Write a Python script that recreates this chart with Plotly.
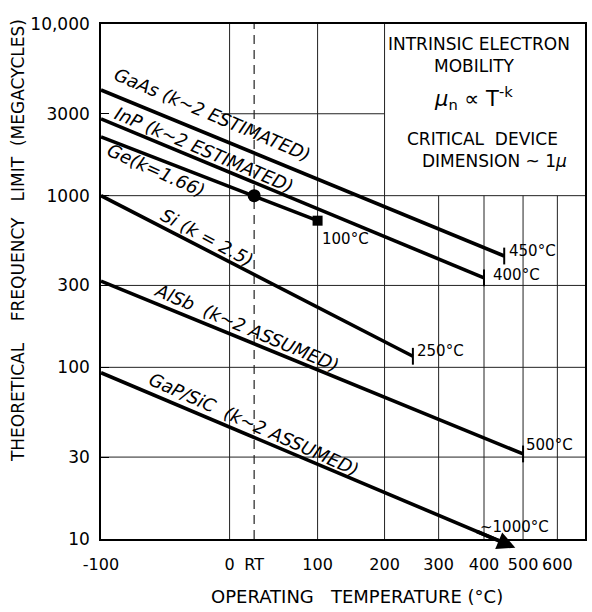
import numpy as np
import plotly.graph_objects as go

KELVIN = 273.15

# Frequency-limit lines: start and end points (temperature in °C, frequency in megacycles)
materials = ["GaAs", "InP", "Ge", "Si", "AlSb", "GaP/SiC"]
line_labels = ["GaAs (k~2 ESTIMATED)", "InP (k~2 ESTIMATED)", "Ge(k=1.66)",
               "Si (k = 2.5)", "AlSb  (k~2 ASSUMED)", "GaP/SiC  (k~2 ASSUMED)"]
start_temp_c = [-100, -100, -100, -100, -100, -100]
start_freq = [4130, 2800, 2200, 1000, 318, 93]
end_temp_c = [450, 400, 100, 250, 500, 479]
end_freq = [445, 332, 715, 116, 31.3, 8.9]
end_labels = ["450°C", "400°C", "100°C", "250°C", "500°C", "~1000°C"]

# Room-temperature reference point on the Ge line
rt_temp_k = 298
rt_freq = 1000

# Axis ticks
x_tick_temps_c = [-100, 0, None, 100, 200, 300, 400, 500, 600]
x_tick_text = ["-100", "0", "RT", "100", "200", "300", "400", "500", "600"]
y_tick_vals = [10, 30, 100, 300, 1000, 3000, 10000]
y_tick_text = ["10", "30", "100", "300", "1000", "3000", "10,000"]

X_MAX_K = 963


def to_k(c):
    return c + KELVIN


x_tick_vals = [rt_temp_k if t is None else to_k(t) for t in x_tick_temps_c]

FONT = "DejaVu Sans"
fig = go.Figure()

# ---- grid segments ----
grid = dict(color="#222222", width=1)


def seg(x, y, line):
    fig.add_trace(go.Scatter(x=x, y=y, mode="lines", line=line,
                             hoverinfo="skip", showlegend=False))


x_lo = to_k(-100)
for f in [3000, 1000, 300, 100, 30]:
    if f == 3000:
        seg([to_k(-8), to_k(200)], [f, f], grid)   # stops at the legend panel
    else:
        seg([x_lo, X_MAX_K], [f, f], grid)
for t in [0, 100, 200]:
    seg([to_k(t), to_k(t)], [10, 10000], grid)
for t in [300, 400, 500, 600]:
    seg([to_k(t), to_k(t)], [10, 1000], grid)       # below the legend panel
seg([rt_temp_k, rt_temp_k], [10, 10000], dict(color="#222222", width=1.2, dash="9px,6px"))

# ---- material lines ----
LW = 3.6
for i, name in enumerate(materials):
    xs = [to_k(start_temp_c[i]), to_k(end_temp_c[i])]
    ys = [start_freq[i], end_freq[i]]
    fig.add_trace(go.Scatter(x=xs, y=ys, mode="lines", name=name,
                             line=dict(color="black", width=LW), showlegend=False))
    if name == "Ge":
        fig.add_trace(go.Scatter(x=[xs[1]], y=[ys[1]], mode="markers", showlegend=False,
                                 marker=dict(symbol="square", size=10, color="black")))
    elif name != "GaP/SiC":
        fig.add_trace(go.Scatter(x=[xs[1]], y=[ys[1]], mode="markers", showlegend=False,
                                 marker=dict(symbol="line-ns-open", size=12, color="black",
                                             line=dict(color="black", width=2))))

fig.add_trace(go.Scatter(x=[rt_temp_k], y=[rt_freq], mode="markers", showlegend=False,
                         marker=dict(symbol="circle", size=13, color="black")))

annotations = []

# arrow carrying the GaP/SiC line past the bottom axis
g = materials.index("GaP/SiC")
lx0, lx1 = np.log10(to_k(start_temp_c[g])), np.log10(to_k(end_temp_c[g]))
ly0, ly1 = np.log10(start_freq[g]), np.log10(end_freq[g])
tail_x = np.log10(to_k(380))
tail_y = ly0 + (ly1 - ly0) * (tail_x - lx0) / (lx1 - lx0)
annotations.append(dict(x=lx1, y=ly1, ax=tail_x, ay=tail_y, xref="x", yref="y",
                        axref="x", ayref="y", text="", showarrow=True,
                        arrowhead=2, arrowsize=1.0, arrowwidth=LW, arrowcolor="black"))

# ---- line labels ----
label_pos = [(-16, 2990, 23), (-24, 1846, 23), (-62, 1411, 24),
             (-21, 567, 28), (17, 170, 23), (25, 46.2, 24)]
for text, (tc, f, ang) in zip(line_labels, label_pos):
    annotations.append(dict(x=np.log10(to_k(tc)), y=np.log10(f), xref="x", yref="y",
                            text=text, showarrow=False, textangle=ang,
                            xanchor="center", yanchor="middle",
                            font=dict(family=FONT, size=18, color="black", style="italic")))

# ---- end-point temperature labels ----
end_shift = [(3, 5), (7, 3), (2, -18), (2, 5), (1, 9)]
for i, (dx, dy) in enumerate(end_shift):
    annotations.append(dict(x=np.log10(to_k(end_temp_c[i])), y=np.log10(end_freq[i]),
                            xref="x", yref="y", text=end_labels[i], showarrow=False,
                            xanchor="left", yanchor="middle", xshift=dx, yshift=dy,
                            font=dict(family=FONT, size=15, color="black")))
# the GaP/SiC end runs off the axis, so its label sits just above the arrow
annotations.append(dict(x=0.854, y=0.023, xref="paper", yref="paper", text=end_labels[g],
                        showarrow=False, xanchor="center", yanchor="middle",
                        font=dict(family=FONT, size=15, color="black")))

# ---- legend panel text ----
panel = [("INTRINSIC ELECTRON", 0.780, 0.961, 17),
         ("MOBILITY", 0.772, 0.918, 17),
         ("<i>μ</i><sub>n</sub> ∝ T<sup>-k</sup>", 0.770, 0.856, 21),
         ("CRITICAL  DEVICE", 0.788, 0.777, 17),
         ("DIMENSION ~ 1<i>μ</i>", 0.813, 0.734, 17)]
for text, px, py, size in panel:
    annotations.append(dict(x=px, y=py, xref="paper", yref="paper", text=text,
                            showarrow=False, xanchor="center", yanchor="middle",
                            font=dict(family=FONT, size=size, color="black")))

# ---- axis titles ----
annotations.append(dict(x=-0.171, y=0.579, xref="paper", yref="paper", textangle=-90,
                        xanchor="center", yanchor="middle",
                        text="THEORETICAL    FREQUENCY   LIMIT  (MEGACYCLES)", showarrow=False,
                        font=dict(family=FONT, size=17, color="black")))
annotations.append(dict(x=0.529, y=-0.1126, xref="paper", yref="paper",
                        xanchor="center", yanchor="middle",
                        text="OPERATING   TEMPERATURE (°C)", showarrow=False,
                        font=dict(family=FONT, size=18, color="black")))

fig.update_layout(
    width=592, height=612,
    margin=dict(l=101, r=5, t=24, b=73),
    paper_bgcolor="white", plot_bgcolor="white",
    showlegend=False,
    annotations=annotations,
    xaxis=dict(type="log", range=[np.log10(to_k(-100)), np.log10(X_MAX_K)],
               tickvals=x_tick_vals, ticktext=x_tick_text, showgrid=False, zeroline=False,
               showline=True, linecolor="black", linewidth=1.6, mirror=True,
               ticks="", ticklabelstandoff=10,
               tickfont=dict(family=FONT, size=16, color="black")),
    yaxis=dict(type="log", range=[1, 4],
               tickvals=y_tick_vals, ticktext=y_tick_text, showgrid=False, zeroline=False,
               showline=True, linecolor="black", linewidth=1.6, mirror=True,
               ticks="inside", ticklen=8, tickcolor="black", ticklabelstandoff=6,
               tickfont=dict(family=FONT, size=17, color="black")),
)

fig.write_html("out.html")
